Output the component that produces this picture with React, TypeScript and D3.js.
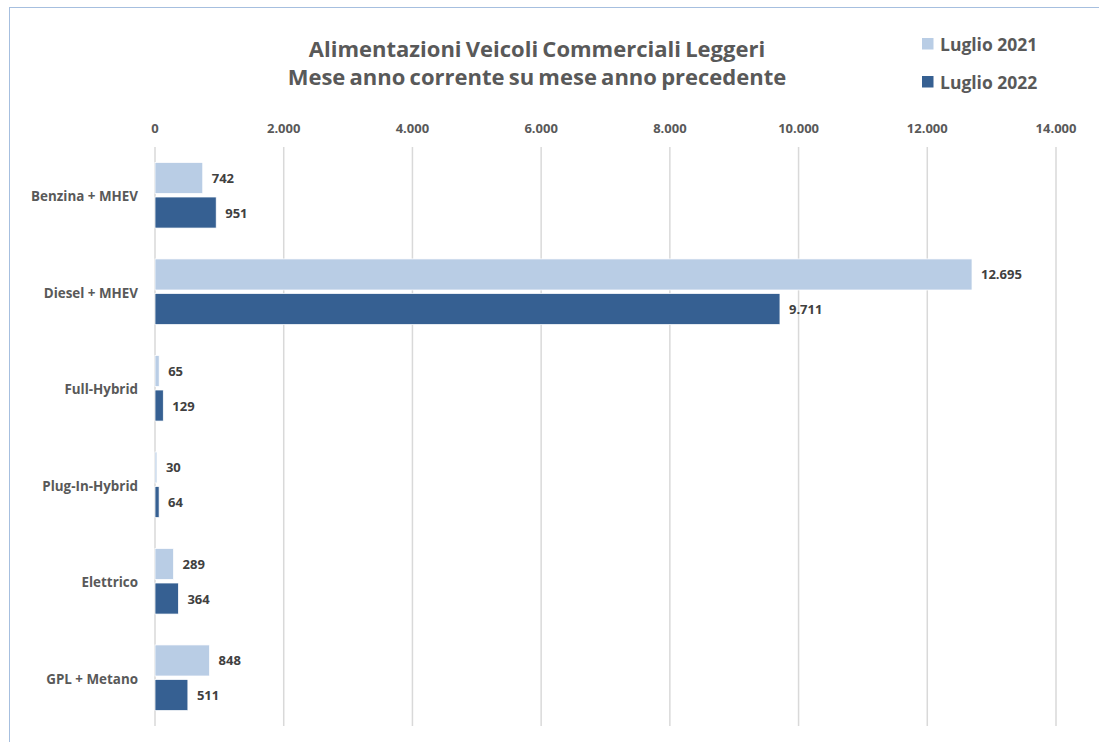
import React, { useLayoutEffect } from "react";
import * as d3 from "d3";

const categories = ["Benzina + MHEV", "Diesel + MHEV", "Full-Hybrid", "Plug-In-Hybrid", "Elettrico", "GPL + Metano"];
const series2021 = [742, 12695, 65, 30, 289, 848];
const series2022 = [951, 9711, 129, 64, 364, 511];
const seriesNames = ["Luglio 2021", "Luglio 2022"];
const xTicks = [0, 2000, 4000, 6000, 8000, 10000, 12000, 14000];
const titleLines = ["Alimentazioni Veicoli Commerciali Leggeri", "Mese anno corrente su mese anno precedente"];

const COLORS = ["#b9cde5", "#366092"];
const FONT = "'Open Sans', sans-serif";
const fmt = (v: number) => d3.format(",")(v).replace(/,/g, ".");

export default function App() {
  useLayoutEffect(() => {
    document.body.style.margin = "0";
  }, []);
  const W = 1099, H = 742;
  const x = d3.scaleLinear().domain([0, 14000]).range([155, 1056]);
  const y = d3.scaleBand<string>().domain(categories).range([147, 726]).padding(0);
  const bw = y.bandwidth();
  const groupH = bw * 0.68;
  const gap = 3.5;
  const barH = (groupH - gap) / 2;
  const series = [series2021, series2022];

  return (
    <svg width={W} height={H} style={{ display: "block", background: "#fff" }} fontFamily={FONT}>
      <rect x={9.5} y={7.5} width={W + 20} height={H + 20} fill="#fff" stroke="#a6bfdf" strokeWidth={1} />
      {titleLines.map((t, i) => (
        <text key={i} x={537} y={57 + i * 28} textAnchor="middle" fontSize={22} fontWeight={700} fill="#595959" wordSpacing={-1.5}>{t}</text>
      ))}
      {seriesNames.map((n, i) => (
        <g key={n}>
          <rect x={922} y={38 + i * 38} width={11.5} height={11.5} fill={COLORS[i]} />
          <text x={940} y={51 + i * 38} fontSize={17.5} fontWeight={700} fill="#595959">{n}</text>
        </g>
      ))}
      {xTicks.map((t) => (
        <g key={t}>
          <line x1={x(t)} x2={x(t)} y1={147} y2={726} stroke="#d9d9d9" strokeWidth={1.5} />
          <text x={x(t)} y={132.5} textAnchor="middle" fontSize={13} fontWeight={700} fill="#595959">{fmt(t)}</text>
        </g>
      ))}
      {categories.map((c, ci) => {
        const top = (y(c) as number) + (bw - groupH) / 2;
        return (
          <g key={c}>
            <text x={138} y={(y(c) as number) + bw / 2 + 6} textAnchor="end" fontSize={13.4} fontWeight={700} fill="#595959">{c}</text>
            {series.map((s, si) => {
              const by = top + si * (barH + gap);
              return (
                <g key={si}>
                  <rect x={x(0)} y={by} width={x(s[ci]) - x(0)} height={barH} fill={COLORS[si]} stroke="#fff" strokeWidth={0.75} />
                  <text x={x(s[ci]) + 9} y={by + barH / 2 + 5} fontSize={13} fontWeight={700} fill="#404040">{fmt(s[ci])}</text>
                </g>
              );
            })}
          </g>
        );
      })}
    </svg>
  );
}
